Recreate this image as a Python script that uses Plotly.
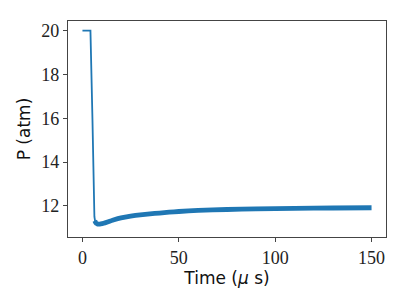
import plotly.graph_objects as go

# Initial plateau and drop (thin line)
t_drop = [0, 4.15, 5.2, 5.9, 6.2, 6.6]
p_drop = [20.0, 20.0, 15.9, 12.4, 11.5, 11.28]

# Relaxation (thick band)
t_relax = [6.4, 6.9, 7.6, 8.5, 9.5, 11, 13, 16, 20, 25, 30, 35, 40, 45, 50, 60, 75, 90, 110, 130, 150]
p_relax = [11.32, 11.23, 11.18, 11.16, 11.17, 11.2, 11.26, 11.35, 11.45, 11.53, 11.59, 11.63, 11.67, 11.71, 11.74, 11.79, 11.83, 11.86, 11.88, 11.9, 11.91]

x_ticks = [0, 50, 100, 150]
y_ticks = [12, 14, 16, 18, 20]

color = "#1f77b4"

fig = go.Figure()
fig.add_trace(go.Scatter(x=t_drop, y=p_drop, mode="lines",
                         line=dict(color=color, width=1.8), showlegend=False))
fig.add_trace(go.Scatter(x=t_relax, y=p_relax, mode="lines",
                         line=dict(color=color, width=4.8, shape="spline", smoothing=0.3),
                         showlegend=False))

axis_common = dict(
    showgrid=False, zeroline=False, showline=True, mirror=True, automargin=False,
    linecolor="#444444", linewidth=1.2,
    ticks="outside", ticklen=4, tickwidth=1, tickcolor="#444444",
    tickfont=dict(family="Liberation Serif", size=18, color="#222222"),
)

# page has an 8px body margin, so the figure is shrunk and margins shifted
fig.update_layout(
    width=399, height=297,
    margin=dict(l=60, r=21, t=13, b=68),
    paper_bgcolor="white", plot_bgcolor="white",
    xaxis=dict(range=[-7.5, 157.5], tickvals=x_ticks,
               title=dict(text="Time (<i>μ</i> s)", standoff=2,
                          font=dict(family="DejaVu Sans", size=17, color="#111111")),
               **axis_common),
    yaxis=dict(range=[10.575, 20.44], tickvals=y_ticks,
               title=dict(text="P (atm)", standoff=6,
                          font=dict(family="DejaVu Sans", size=17, color="#111111")),
               **axis_common),
)

fig.write_html("out.html")
